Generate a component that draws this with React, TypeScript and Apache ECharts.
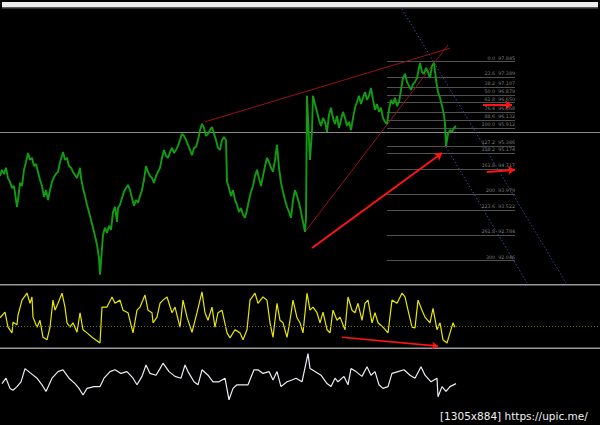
import React, { useEffect, useRef } from "react";
import * as echarts from "echarts";

// ---- price (bar index, close) ----
const priceBars = [0,2,4,6,8,10,12,14,16,17,19,20,22,24,26,28,30,32,34,36,38,40,42,44,46,48,50,52,54,56,58,60,62,63,65,67,69,71,73,75,77,79,80,81,83,85,87,89,91,93,95,97,99,100,101,103,105,107,109,111,113,115,117,118,120,122,124,126,128,130,132,134,136,138,140,142,144,146,148,150,152,154,156,158,160,162,164,166,168,170,172,174,176,178,180,182,184,186,188,190,192,194,196,198,200,202,204,206,208,210,212,214,216,218,220,222,224,226,227,229,231,233,235,237,239,241,243,245,247,249,251,253,255,257,259,261,263,265,267,269,271,273,275,277,279,281,283,285,287,289,291,293,295,297,299,301,303,305,306,307,309,310,312,313,315,317,319,321,323,325,327,329,331,333,335,337,339,341,343,345,347,349,351,353,355,357,359,361,363,365,367,369,371,373,375,377,379,381,383,385,387,389,391,393,395,397,399,401,403,405,407,409,411,413,415,417,419,420,422,424,426,428,430,432,434,436,438,440,442,444,445,446,447,448,450,452,454,456];
const priceValues = [94.51,94.69,94.57,94.75,94.45,94.34,94.16,94.22,93.81,93.61,94.05,94.31,94.22,94.69,94.92,95.18,94.98,95.04,94.80,94.86,94.63,94.40,94.22,93.90,94.10,93.81,94.10,94.34,94.48,94.57,94.63,94.92,95.10,95.21,94.98,95.04,94.80,94.75,94.63,94.54,94.45,94.63,94.75,94.45,94.16,93.93,93.67,93.46,93.23,93.00,92.76,92.50,92.12,91.63,92.01,92.79,93.00,92.85,93.06,92.94,93.46,93.61,93.17,93.58,93.67,93.87,94.05,94.16,94.25,94.10,93.87,93.64,93.81,93.73,93.93,94.10,94.40,94.80,94.63,94.51,94.45,94.31,94.51,94.63,94.75,95.04,95.27,95.10,95.04,95.21,95.33,95.18,95.27,95.39,95.56,95.74,95.68,95.56,95.42,95.27,95.12,95.33,95.36,95.56,95.85,96.03,95.91,95.68,95.74,95.85,95.94,95.74,95.56,95.33,95.27,95.56,95.65,95.56,94.34,94.16,93.93,94.10,93.81,93.67,93.46,93.58,93.38,93.29,93.52,93.81,94.05,94.22,94.51,94.69,94.45,94.22,94.51,94.80,95.04,94.92,94.75,94.63,94.98,95.42,94.75,94.31,94.05,93.81,93.61,93.46,93.29,93.81,94.10,93.93,93.73,93.46,93.17,92.88,93.29,96.85,95.56,94.98,95.85,96.85,96.61,96.38,96.15,95.97,96.20,96.09,95.80,96.29,96.50,96.20,96.03,96.26,95.91,96.15,96.38,96.20,95.97,96.09,95.85,96.20,96.50,96.67,96.85,96.61,96.79,96.96,96.73,96.85,97.08,96.73,96.44,96.61,96.38,96.50,96.20,96.09,96.03,96.44,96.73,96.61,96.79,96.55,96.67,97.02,97.37,97.49,97.25,97.14,97.02,97.19,97.25,97.37,97.66,97.81,97.54,97.49,97.66,97.54,97.37,97.72,97.81,97.31,96.96,96.79,96.55,96.29,96.03,95.39,95.56,95.74,95.85,95.80,95.91,95.97];

// ---- oscillator 1 (yellow) ----
const osc1Bars = [0,5,8,12,13,17,18,22,27,30,32,33,37,40,43,47,50,53,55,58,62,65,67,70,73,77,80,83,87,93,100,102,107,112,115,120,123,128,133,137,140,145,148,152,153,157,160,163,167,172,175,180,183,187,192,197,202,205,208,212,215,218,222,227,230,235,240,243,247,250,255,258,263,267,270,273,277,280,283,287,290,293,297,300,303,307,310,313,317,320,323,327,330,333,337,340,345,348,352,355,358,362,365,368,372,375,378,383,388,392,397,402,405,408,412,415,418,422,425,430,433,437,440,443,447,450,453,455];
const osc1Values = [48,57,33,24,41,37,52,76,87,71,81,49,33,44,17,13,33,76,60,71,87,65,40,33,40,25,56,29,24,16,8,65,65,81,71,76,60,56,24,60,65,84,60,56,40,49,71,76,81,56,65,33,76,49,25,56,89,56,44,65,33,56,60,24,16,29,24,13,29,76,87,71,81,76,40,17,71,44,40,17,44,76,48,40,24,87,60,65,56,40,57,29,24,60,44,49,29,81,60,56,71,44,71,76,40,56,40,33,24,76,71,87,81,60,33,32,76,60,49,40,63,29,40,13,8,24,40,33];
const osc1MidLevel = 35;

// ---- oscillator 2 (white) ----
const osc2Bars = [2,6,10,13,17,21,25,31,37,42,46,52,58,63,69,75,79,83,87,94,100,104,110,115,121,127,133,137,142,146,150,156,160,163,169,175,181,185,188,194,198,202,208,213,219,225,229,233,237,242,248,254,258,263,269,273,277,281,287,292,296,302,308,310,315,321,327,331,335,338,344,348,351,356,362,367,371,375,379,383,388,392,398,404,410,415,421,425,431,437,438,442,446,450,456];
const osc2Values = [44,53,36,33,39,47,69,61,53,42,31,53,64,67,53,44,36,25,36,39,39,53,64,67,61,64,53,42,56,75,61,58,69,78,64,56,53,75,64,47,42,67,58,47,47,53,17,36,42,42,42,67,67,61,64,50,64,39,47,50,53,47,94,69,64,58,44,39,53,47,56,42,69,64,56,72,58,64,42,36,39,61,64,67,58,53,72,58,47,53,22,39,31,39,44];

// ---- drawing objects ----
const fibLevels = ["0.0","23.6","38.2","50.0","61.8","76.4","88.6","100.0","127.2","138.2","161.8","200","223.6","261.8","300"];
const fibPrices = [97.845,97.389,97.107,96.879,96.650,96.368,96.132,95.912,95.386,95.174,94.717,93.979,93.522,92.784,92.046];
const fibStartBar = 387;
const fibEndBar = 515;
const currentPrice = 95.8;

// trend lines: [bar1, price1, bar2, price2]
const trendLines = [
  [205, 96.09, 450, 98.24],
  [305, 92.88, 448, 98.33],
];
const channelLines = [
  [402, 99.38, 566, 91.39],
  [446, 95.36, 527, 91.39],
];
const priceArrows = [
  [312, 92.41, 442, 95.18],
  [483, 96.58, 512, 96.58],
  [487, 94.63, 515, 94.69],
];
const oscArrows = [[342, 17, 438, 3]];

const pairs = (xs: number[], ys: number[]) => xs.map((x, i) => [x, ys[i]]);
const seg = (s: number[]) => [{ coord: [s[0], s[1]] }, { coord: [s[2], s[3]] }];

export default function App() {
  const ref = useRef<HTMLDivElement>(null);
  useEffect(() => {
    if (!ref.current) return;
    const chart = echarts.init(ref.current, null, { renderer: "svg" });
    const xAx = (i: number) => ({ type: "value", gridIndex: i, min: 0, max: 600, show: false });
    const option: any = {
      animation: false,
      backgroundColor: "#000",
      grid: [
        { left: 0, right: 0, top: 8, height: 275 },
        { left: 0, right: 0, top: 285, height: 63 },
        { left: 0, right: 0, top: 350, height: 60 },
      ],
      xAxis: [xAx(0), xAx(1), xAx(2)],
      yAxis: [
        { type: "value", gridIndex: 0, min: 91.39, max: 99.41, show: false },
        { type: "value", gridIndex: 1, min: 0, max: 100, show: false },
        { type: "value", gridIndex: 2, min: 0, max: 100, show: false },
      ],
      graphic: [
        { type: "rect", shape: { x: 2, y: 2, width: 596, height: 5 }, style: { fill: "#ececec" }, silent: true },
        { type: "rect", shape: { x: 2, y: 7, width: 596, height: 1.5 }, style: { fill: "#5a5a5a" }, silent: true },
        { type: "rect", shape: { x: 0, y: 284, width: 600, height: 1.6 }, style: { fill: "#9a9a9a" }, silent: true },
        { type: "rect", shape: { x: 0, y: 347.5, width: 600, height: 1.6 }, style: { fill: "#9a9a9a" }, silent: true },
        {
          type: "text", left: 440, top: 410,
          style: { text: "[1305x884] https://upic.me/", fill: "#f0f0f0", font: "10.5px 'DejaVu Sans'" },
          silent: true,
        },
      ],
      series: [
        {
          type: "line", xAxisIndex: 0, yAxisIndex: 0, data: pairs(priceBars, priceValues),
          showSymbol: false, lineStyle: { color: "#129c12", width: 1.9 }, silent: true, z: 5,
          markLine: {
            silent: true, symbol: "none", animation: false,
            data: [
              [
                { coord: [0, currentPrice], lineStyle: { color: "#8c8c8c", width: 1, type: "solid" }, label: { show: false } },
                { coord: [600, currentPrice] },
              ],
              ...fibLevels.map((lv, i) => [
                {
                  coord: [fibStartBar, fibPrices[i]],
                  lineStyle: { color: "#666666", width: 0.8, type: "solid" },
                  label: {
                    show: true, position: "insideEndTop", distance: [0, 1],
                    formatter: lv + "  " + fibPrices[i].toFixed(3),
                    color: "#7e7e7e", fontSize: 4.8, fontFamily: "DejaVu Sans",
                  },
                },
                { coord: [fibEndBar, fibPrices[i]] },
              ]),
            ],
          },
        },
        {
          type: "line", xAxisIndex: 0, yAxisIndex: 0, data: [], silent: true,
          markLine: {
            silent: true, symbol: "none", animation: false, label: { show: false },
            data: [
              ...trendLines.map((s) => seg(s).map((p, k) => (k === 0 ? { ...p, lineStyle: { color: "#9a1212", width: 1, type: "solid" } } : p))),
              ...channelLines.map((s) => seg(s).map((p, k) => (k === 0 ? { ...p, lineStyle: { color: "#3a4c95", width: 1, type: [1.5, 2] } } : p))),
            ],
          },
        },
        {
          type: "line", xAxisIndex: 0, yAxisIndex: 0, data: [], silent: true, z: 6,
          markLine: {
            silent: true, symbol: ["none", "arrow"], symbolSize: 7, animation: false, label: { show: false },
            lineStyle: { color: "#ff1414", width: 2, type: "solid" },
            data: priceArrows.map(seg),
          },
        },
        {
          type: "line", xAxisIndex: 1, yAxisIndex: 1, data: pairs(osc1Bars, osc1Values),
          showSymbol: false, lineStyle: { color: "#e8e800", width: 1.2 }, silent: true,
          markLine: {
            silent: true, symbol: "none", animation: false, label: { show: false },
            data: [
              [
                { coord: [0, osc1MidLevel], lineStyle: { color: "#6f6f10", width: 1, type: [1, 2] } },
                { coord: [600, osc1MidLevel] },
              ],
            ],
          },
        },
        {
          type: "line", xAxisIndex: 1, yAxisIndex: 1, data: [], silent: true, z: 6,
          markLine: {
            silent: true, symbol: ["none", "arrow"], symbolSize: 6, animation: false, label: { show: false },
            lineStyle: { color: "#ff1414", width: 1.6, type: "solid" },
            data: oscArrows.map(seg),
          },
        },
        {
          type: "line", xAxisIndex: 2, yAxisIndex: 2, data: pairs(osc2Bars, osc2Values),
          showSymbol: false, lineStyle: { color: "#ececf4", width: 1.2 }, silent: true,
        },
      ],
    };
    chart.setOption(option);
    return () => chart.dispose();
  }, []);
  return (
    <div
      ref={ref}
      style={{ position: "fixed", left: 0, top: 0, width: 600, height: 425, background: "#000" }}
    />
  );
}
